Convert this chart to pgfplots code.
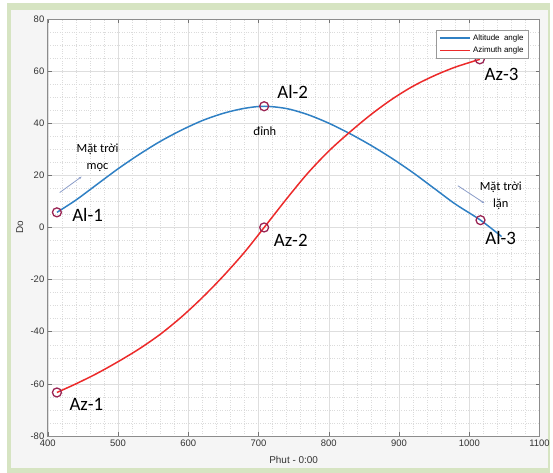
\documentclass[border=0pt]{standalone}
\usepackage{fontspec}
\setmainfont{Liberation Sans}
\newfontfamily\carl{Carlito}
\usepackage{pgfplots}
\pgfplotsset{compat=1.18}
\usetikzlibrary{arrows.meta}
\definecolor{mblue}{HTML}{2F80C4}
\definecolor{mred}{HTML}{EC2A2A}
\definecolor{mk}{HTML}{9A2453}
\definecolor{framec}{HTML}{D6E4C2}
\definecolor{panel}{HTML}{F5F5F5}
\definecolor{arr}{HTML}{8A9CC8}
\begin{document}
\begin{tikzpicture}
\fill[white] (-48pt,-37pt) rectangle (505pt,438pt);
\fill[framec] (-41pt,-37pt) rectangle (505pt,435pt);
\fill[panel] (-37pt,-32pt) rectangle (503pt,428pt);
\begin{axis}[
  scale only axis, width=494pt, height=419pt,
  xmin=400, xmax=1100, ymin=-80, ymax=80,
  xtick={400,500,...,1100}, ytick={-80,-60,...,80},
  minor x tick num=4, minor y tick num=3,
  grid=both,
  major grid style={black!13, line width=0.5pt},
  minor grid style={black!14, dotted, line width=0.45pt},
  axis background/.style={fill=white},
  axis line style={black!45, line width=0.6pt},
  tick style={black!55, line width=0.5pt},
  major tick length=4pt, minor tick length=0pt,
  tick align=inside,
  ticklabel style={font=\fontsize{9.5}{10}\selectfont, text=black!80},
  /pgf/number format/assume math mode=true,
  /pgf/number format/1000 sep={},
  xlabel={Phut - 0:00}, ylabel={Do},
  xlabel style={at={(axis description cs:0.5,-0.057)}, anchor=center, font=\fontsize{10}{11}\selectfont, text=black!80},
  ylabel style={at={(axis description cs:-0.057,0.5)}, anchor=center, rotate=0, font=\fontsize{10}{11}\selectfont, text=black!80},
  legend style={at={(0.978,0.974)}, anchor=north east, font=\fontsize{8}{9.5}\selectfont, draw=black!40, fill=white, inner xsep=3pt, inner ysep=2.5pt, row sep=1pt},
  legend cell align=left,
  legend image code/.code={\draw[#1, line width=1.6pt] (0pt,0pt) -- (30pt,0pt);},
  clip=false
]
\addplot[mblue, line width=1.5pt, smooth] coordinates {
 (413,5.8) (440,10.5) (470,16.5) (500,22.5) (530,28) (560,33) (590,37.3) (620,41)
 (650,43.8) (680,45.7) (708,46.5) (740,45.6) (770,43.3) (800,40) (830,36)
 (860,31.5) (890,26.5) (920,21) (950,15) (980,9) (1016,2.8) (1046,-3.5)
};
\addlegendentry{Altitude\ \ angle}
\addplot[mred, line width=1.5pt, smooth] coordinates {
 (413,-63.3) (440,-60.0) (470,-56.0) (500,-51.5) (530,-46.6) (560,-41.0)
 (590,-34.4) (620,-26.9) (650,-18.6) (680,-9.5) (708,0) (740,11.0) (770,20.8)
 (800,29.3) (830,36.6) (860,43.3) (890,49.2) (920,54.2) (950,58.2) (980,61.5) (1015,64.5)
};
\addlegendentry{Azimuth angle}
\addplot[only marks, mark=o, mark size=4.5pt, mk, line width=1.3pt, forget plot] coordinates {
 (413,5.8) (708,46.5) (1016,2.8) (413,-63.3) (708,0) (1015,64.5)
};
\node[font=\carl\fontsize{19}{20}\selectfont] at (axis cs:456.7,4.8) {Al-1};
\node[font=\carl\fontsize{19}{20}\selectfont] at (axis cs:748.6,52.1) {Al-2};
\node[font=\carl\fontsize{19}{20}\selectfont] at (axis cs:1044.8,-4) {Al-3};
\node[font=\carl\fontsize{19}{20}\selectfont] at (axis cs:455,-67.8) {Az-1};
\node[font=\carl\fontsize{19}{20}\selectfont] at (axis cs:745.8,-4.8) {Az-2};
\node[font=\carl\fontsize{19}{20}\selectfont] at (axis cs:1046,58.8) {Az-3};
\node[font=\carl\fontsize{12.5}{14}\selectfont] at (axis cs:709,36.8) {đỉnh};
\node[font=\carl\fontsize{12.5}{17}\selectfont, align=center] at (axis cs:470.9,26.9) {Mặt trời\\mọc};
\node[font=\carl\fontsize{12.5}{17}\selectfont, align=center] at (axis cs:1044.8,12) {Mặt trời\\lặn};
\draw[arr, line width=0.8pt, -{Stealth[length=3pt]}] (axis cs:417,13.4) -- (axis cs:448.2,19.5);
\draw[arr, line width=0.8pt, -{Stealth[length=3pt]}] (axis cs:983.8,16) -- (axis cs:1021.6,9.3);
\end{axis}
\end{tikzpicture}
\end{document}
